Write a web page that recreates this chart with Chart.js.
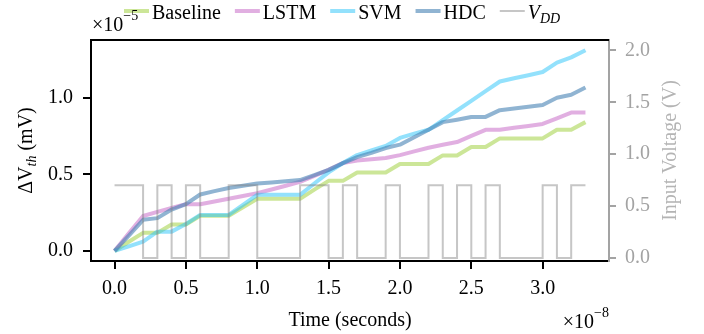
<!DOCTYPE html>
<html><head><meta charset="utf-8">
<script src="https://cdn.jsdelivr.net/npm/chart.js@4/dist/chart.umd.min.js"></script>
<style>html,body{margin:0;padding:0;background:#fff}#wrap{width:704px;height:334px;position:relative}</style>
</head><body><div id="wrap"><canvas id="c" width="704" height="334"></canvas></div>
<script>
// time in units of 1e-8 s
const time = [0,0.1,0.2,0.3,0.4,0.5,0.6,0.7,0.8,0.9,1.0,1.1,1.2,1.3,1.4,1.5,1.6,1.7,1.8,1.9,2.0,2.1,2.2,2.3,2.4,2.5,2.6,2.7,2.8,2.9,3.0,3.1,3.2,3.3];
// delta Vth in units of 1e-5
const baseline = [0,0.06,0.118,0.118,0.173,0.173,0.229,0.229,0.229,0.285,0.34,0.34,0.34,0.34,0.40,0.457,0.457,0.512,0.512,0.512,0.567,0.567,0.567,0.623,0.623,0.678,0.678,0.734,0.734,0.734,0.734,0.79,0.79,0.84];
const lstm = [0,0.115,0.228,0.255,0.28,0.305,0.305,0.322,0.34,0.358,0.377,0.401,0.425,0.451,0.49,0.529,0.573,0.59,0.598,0.606,0.625,0.649,0.673,0.692,0.71,0.75,0.79,0.79,0.803,0.815,0.828,0.865,0.902,0.902];
const svm = [0,0.03,0.061,0.126,0.126,0.176,0.235,0.235,0.235,0.30,0.366,0.366,0.366,0.366,0.44,0.512,0.573,0.625,0.655,0.685,0.737,0.765,0.79,0.853,0.916,0.979,1.042,1.105,1.126,1.146,1.167,1.228,1.262,1.309];
const hdc = [0,0.1,0.203,0.214,0.27,0.305,0.368,0.39,0.41,0.425,0.44,0.447,0.454,0.462,0.495,0.529,0.573,0.612,0.64,0.671,0.693,0.742,0.79,0.84,0.856,0.874,0.874,0.918,0.929,0.94,0.952,0.999,1.018,1.066];
// input voltage (V), value holds from each time to the next
const vdd = [0.7,0.7,0,0.7,0,0.7,0,0,0.7,0.7,0,0,0,0.7,0.7,0,0.7,0,0,0.7,0,0,0.7,0,0.7,0,0.7,0,0,0,0.7,0,0.7,0.7];

const xTicks = [0,0.5,1.0,1.5,2.0,2.5,3.0];
const yTicks = [0,0.5,1.0];
const y2Ticks = [0,0.5,1.0,1.5,2.0];
const seriesNames = ['Baseline','LSTM','SVM','HDC','V_DD'];

const FONT = "'Liberation Serif','Times New Roman',serif";
const GRAY = '#a3a3a3';
const pts = arr => time.map((t,i)=>({x:t,y:arr[i]}));

function richText(ctx, parts, x, y, draw){
  let w = 0;
  for (const p of parts){
    ctx.font = (p.italic?'italic ':'') + p.size + 'px ' + FONT;
    const pw = ctx.measureText(p.t).width;
    if (draw) ctx.fillText(p.t, x + w, y + (p.dy||0));
    w += pw;
  }
  return w;
}
function labelParts(s){
  if (s.includes('_')){
    const [a,b] = s.split('_');
    return [{t:a,size:20,italic:true},{t:b,size:14,italic:true,dy:4}];
  }
  return [{t:s,size:20}];
}

const decor = {
  id:'decor',
  afterDraw(chart){
    const ctx = chart.ctx, a = chart.chartArea;
    ctx.save();
    // top spine
    ctx.strokeStyle = '#000'; ctx.lineWidth = 2;
    ctx.beginPath(); ctx.moveTo(a.left-1, a.top); ctx.lineTo(a.right, a.top); ctx.stroke();
    // legend
    ctx.textBaseline = 'alphabetic'; ctx.fillStyle = '#000';
    let x = 124; const ly = 11, by = 19;
    chart.data.datasets.forEach(ds => {
      ctx.strokeStyle = ds.borderColor; ctx.lineWidth = ds.legendWidth || ds.borderWidth;
      ctx.beginPath(); ctx.moveTo(x, ly); ctx.lineTo(x+25, ly); ctx.stroke();
      x += 28;
      const w = richText(ctx, labelParts(ds.label), x, by, true);
      x += w + 14;
    });
    // offset texts
    ctx.fillStyle = '#000';
    const w1 = richText(ctx, [{t:'\u00d710',size:20}], a.left+1, 31, true);
    richText(ctx, [{t:'\u22125',size:14}], a.left+1+w1, 20, true);
    ctx.font = '20px ' + FONT;
    const wx = ctx.measureText('\u00d710').width;
    ctx.font = '14px ' + FONT;
    const ws = ctx.measureText('\u22128').width;
    const sx = a.right - wx - ws;
    richText(ctx, [{t:'\u00d710',size:20}], sx, 328, true);
    richText(ctx, [{t:'\u22128',size:14}], sx + wx, 317, true);
    // x title
    ctx.font = '20px ' + FONT;
    ctx.textAlign = 'center';
    ctx.fillText('Time (seconds)', (a.left+a.right)/2, 326);
    ctx.textAlign = 'left';
    // left title
    const lp = [{t:'\u0394V',size:20},{t:'th',size:14,italic:true,dy:4},{t:' (mV)',size:20}];
    const lw = richText(ctx, lp, 0, 0, false);
    ctx.save();
    ctx.translate(32, (a.top+a.bottom)/2);
    ctx.rotate(-Math.PI/2);
    richText(ctx, lp, -lw/2, 0, true);
    ctx.restore();
    // right title
    ctx.save();
    ctx.fillStyle = '#b4b4b4';
    ctx.font = '20px ' + FONT;
    ctx.translate(676, (a.top+a.bottom)/2);
    ctx.rotate(-Math.PI/2);
    ctx.textAlign = 'center';
    ctx.fillText('Input Voltage (V)', 0, 0);
    ctx.restore();
    ctx.restore();
  }
};

const common = {pointRadius:0, pointHoverRadius:0, borderWidth:4, tension:0, fill:false, borderJoinStyle:'round', borderCapStyle:'butt'};

new Chart(document.getElementById('c'), {
  type:'line',
  data:{datasets:[
    {...common, label:seriesNames[0], data:pts(baseline), borderColor:'rgba(154,205,50,0.5)', yAxisID:'y', order:4},
    {...common, label:seriesNames[1], data:pts(lstm), borderColor:'rgba(200,110,200,0.55)', yAxisID:'y', order:3},
    {...common, label:seriesNames[2], data:pts(svm), borderColor:'rgba(40,195,250,0.5)', yAxisID:'y', order:2},
    {...common, label:seriesNames[3], data:pts(hdc), borderColor:'rgba(70,130,180,0.6)', yAxisID:'y', order:1},
    {...common, label:seriesNames[4], data:pts(vdd), borderColor:'rgba(128,128,128,0.45)', borderWidth:2, legendWidth:2, stepped:'before', yAxisID:'y1', order:0, borderJoinStyle:'miter'}
  ]},
  options:{
    responsive:false, animation:false, devicePixelRatio:1,
    layout:{padding:{top:40,left:0,right:0,bottom:0}},
    plugins:{legend:{display:false}, tooltip:{enabled:false}},
    scales:{
      x:{type:'linear', min:-0.165, max:3.465,
        afterBuildTicks:s=>{s.ticks = xTicks.map(v=>({value:v}));},
        afterFit:s=>{s.height = 73;},
        grid:{drawOnChartArea:false, drawTicks:true, tickLength:8, color:'#000', lineWidth:2},
        border:{display:true, color:'#000', width:2},
        ticks:{color:'#000', font:{family:FONT,size:20}, padding:8, maxRotation:0, callback:v=>v.toFixed(1)}
      },
      y:{type:'linear', position:'left', min:-0.0655, max:1.3755,
        afterBuildTicks:s=>{s.ticks = yTicks.map(v=>({value:v}));},
        afterFit:s=>{s.width = 91;},
        grid:{drawOnChartArea:false, drawTicks:true, tickLength:8, color:'#000', lineWidth:2},
        border:{display:true, color:'#000', width:2},
        ticks:{color:'#000', font:{family:FONT,size:20}, padding:10, callback:v=>v.toFixed(1)}
      },
      y1:{type:'linear', position:'right', min:-0.03, max:2.1,
        afterBuildTicks:s=>{s.ticks = y2Ticks.map(v=>({value:v}));},
        afterFit:s=>{s.width = 95;},
        grid:{drawOnChartArea:false, drawTicks:true, tickLength:7, color:GRAY, lineWidth:2},
        border:{display:true, color:GRAY, width:2},
        ticks:{color:GRAY, font:{family:FONT,size:20}, padding:9, callback:v=>v.toFixed(1)}
      }
    }
  },
  plugins:[decor]
});
</script></body></html>
